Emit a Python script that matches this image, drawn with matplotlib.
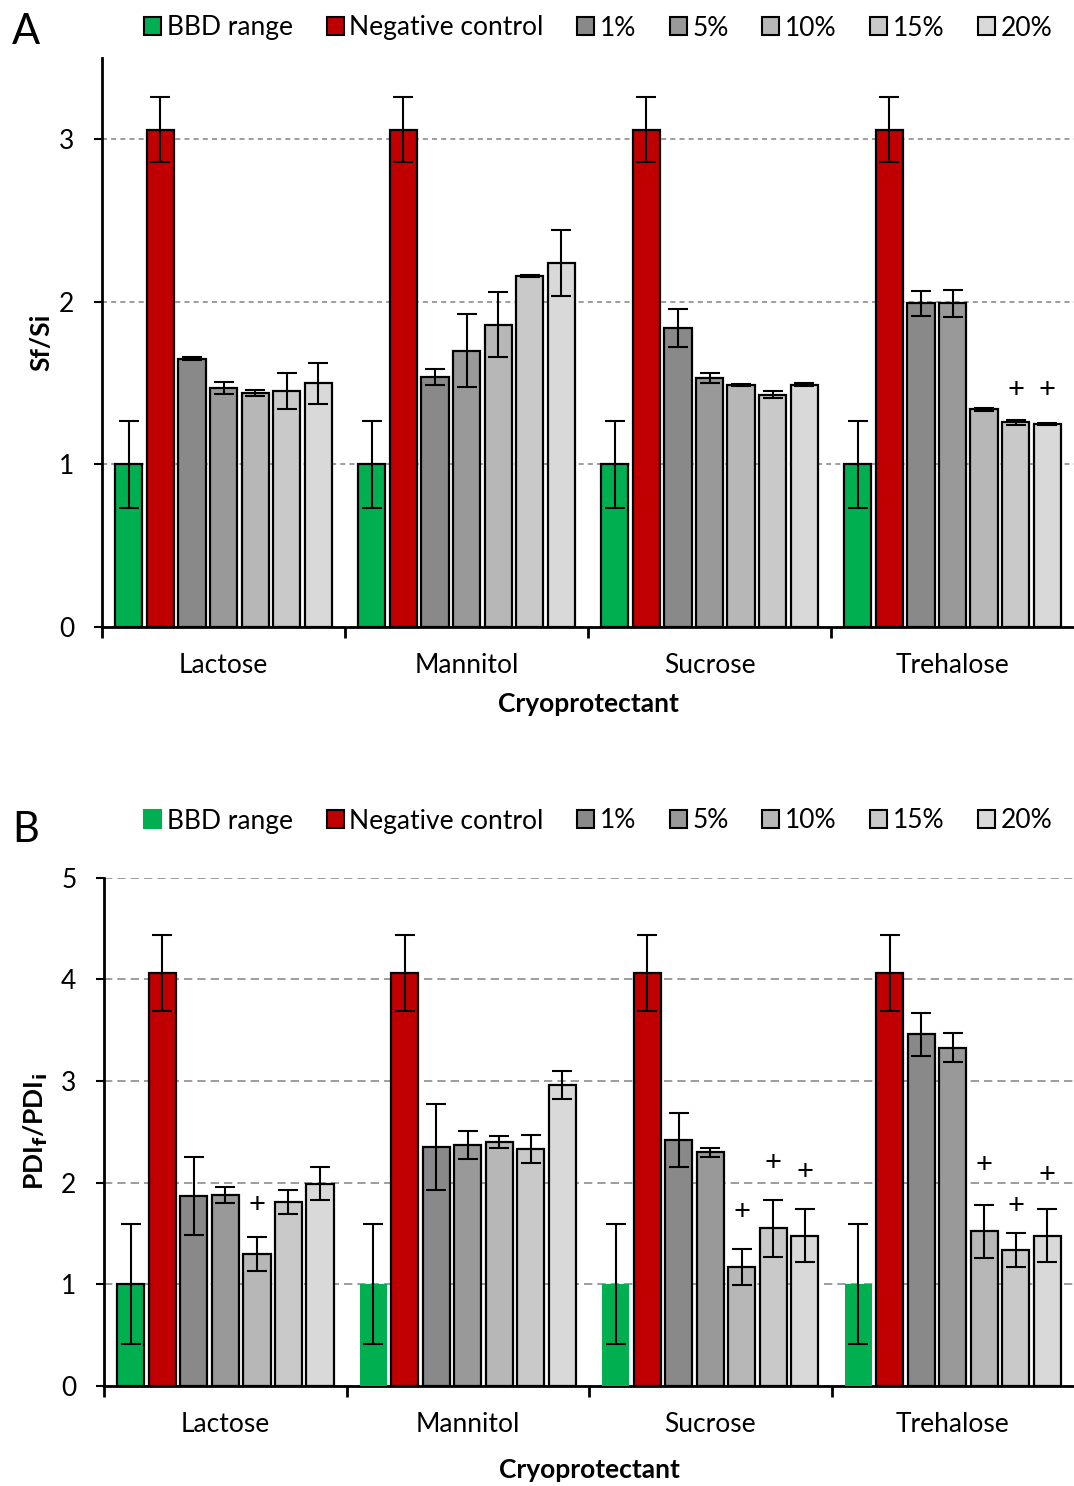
import numpy as np
import matplotlib
matplotlib.use("Agg")
import matplotlib.pyplot as plt
from matplotlib.patches import Patch

plt.rcParams["font.family"] = ["Lato", "DejaVu Sans"]

groups = ["Lactose", "Mannitol", "Sucrose", "Trehalose"]
series = ["BBD range", "Negative control", "1%", "5%", "10%", "15%", "20%"]
colors = ["#00B050", "#C00000", "#898989", "#999999", "#B7B7B7", "#C9C9C9", "#D9D9D9"]

# panel A: Sf/Si, rows = groups, cols = series
sf_mean = [
    [1.0, 3.06, 1.65, 1.47, 1.44, 1.45, 1.50],
    [1.0, 3.06, 1.54, 1.70, 1.86, 2.16, 2.24],
    [1.0, 3.06, 1.84, 1.53, 1.49, 1.43, 1.49],
    [1.0, 3.06, 1.99, 1.99, 1.34, 1.26, 1.25],
]
sf_err = [
    [0.27, 0.20, 0.01, 0.035, 0.02, 0.11, 0.125],
    [0.27, 0.20, 0.05, 0.225, 0.20, 0.005, 0.205],
    [0.27, 0.20, 0.115, 0.03, 0.005, 0.02, 0.01],
    [0.27, 0.20, 0.075, 0.085, 0.01, 0.015, 0.008],
]
# (group, series, y) of "+" marks
sf_plus = [(3, 5, 1.46), (3, 6, 1.46)]

# panel B: PDIf/PDIi
pdi_mean = [
    [1.0, 4.06, 1.87, 1.88, 1.30, 1.81, 1.99],
    [1.0, 4.06, 2.35, 2.37, 2.40, 2.33, 2.96],
    [1.0, 4.06, 2.42, 2.30, 1.17, 1.55, 1.48],
    [1.0, 4.06, 3.46, 3.33, 1.52, 1.34, 1.48],
]
pdi_err = [
    [0.59, 0.375, 0.38, 0.075, 0.17, 0.12, 0.16],
    [0.59, 0.375, 0.425, 0.135, 0.055, 0.135, 0.135],
    [0.59, 0.375, 0.27, 0.043, 0.18, 0.28, 0.265],
    [0.59, 0.375, 0.21, 0.147, 0.26, 0.165, 0.26],
]
pdi_plus = [(0, 4, 1.78), (2, 4, 1.71), (2, 5, 2.19), (2, 6, 2.11),
            (3, 4, 2.17), (3, 5, 1.77), (3, 6, 2.08)]

fig = plt.figure(figsize=(10.74, 14.86), dpi=100)
ax_a = fig.add_axes([0.095, 0.578, 0.905, 0.383])
ax_b = fig.add_axes([0.097, 0.0673, 0.903, 0.342])

step = 0.13
width = 0.112
offsets = (np.arange(len(series)) - 3) * step


def draw_panel(ax, means, errs, plus, ymax, ylabel, green_edge, dash, xlabelpad, ylabelpad):
    means = np.array(means)
    errs = np.array(errs)
    x = np.arange(len(groups))
    for j in range(len(series)):
        edges = ["black"] * len(groups)
        lws = [1.6] * len(groups)
        if j == 0:
            for g in range(len(groups)):
                if not green_edge[g]:
                    edges[g] = colors[0]
                    lws[g] = 0
        ax.bar(x + offsets[j], means[:, j], width, color=colors[j],
               edgecolor=edges, linewidth=lws, zorder=3)
        ax.errorbar(x + offsets[j], means[:, j], yerr=errs[:, j], fmt="none",
                    ecolor="black", elinewidth=1.5, capsize=7, capthick=1.5, zorder=4)
    for g, j, y in plus:
        ax.text(g + offsets[j], y, "+", ha="center", va="center", fontsize=21, zorder=5)
    ax.set_xlim(-0.5, 3.5)
    ax.set_ylim(0, ymax)
    ax.set_yticks(range(0, int(ymax) + 1))
    ax.yaxis.grid(True, linestyle=dash, color="#8c8c8c", linewidth=1.2, zorder=0)
    ax.set_axisbelow(True)
    ax.set_xticks(x)
    ax.set_xticklabels(groups)
    ax.set_xticks([-0.5, 0.5, 1.5, 2.5], minor=True)
    ax.tick_params(axis="x", which="major", length=0, pad=19, labelsize=19)
    ax.tick_params(axis="x", which="minor", length=8, width=2)
    ax.tick_params(axis="y", length=6, width=1.5, labelsize=19, pad=14)
    for s in ["top", "right"]:
        ax.spines[s].set_visible(False)
    for s in ["left", "bottom"]:
        ax.spines[s].set_linewidth(2)
    ax.set_xlabel("Cryoprotectant", fontsize=19, fontweight="bold", labelpad=xlabelpad)
    ax.set_ylabel(ylabel, fontsize=19, fontweight="bold", labelpad=ylabelpad)


draw_panel(ax_a, sf_mean, sf_err, sf_plus, 3.5, "Sf/Si", [True] * 4,
           (0, (3, 2.5)), 10, 4)
draw_panel(ax_b, pdi_mean, pdi_err, pdi_plus, 5, r"PDI$_\mathbf{f}$/PDI$_\mathbf{i}$",
           [True, False, False, False], (0, (5, 3)), 15, 8)


def add_legend(y, green_edge):
    handles = []
    for j, lab in enumerate(series):
        ec = "black" if (j > 0 or green_edge) else colors[0]
        handles.append(Patch(facecolor=colors[j], edgecolor=ec, linewidth=1.5, label=lab))
    fig.legend(handles=handles, loc="center", bbox_to_anchor=(0.557, y), ncol=7,
               frameon=False, fontsize=19, handlelength=0.65, handleheight=0.65,
               handletextpad=0.2, columnspacing=1.28)


add_legend(1 - 28 / 1486, True)
add_legend(1 - 821 / 1486, False)
fig.text(12 / 1074, 1 - 32 / 1486, "A", fontsize=30, va="center")
fig.text(12 / 1074, 1 - 830 / 1486, "B", fontsize=30, va="center")

fig.savefig("out.png", dpi=100)
